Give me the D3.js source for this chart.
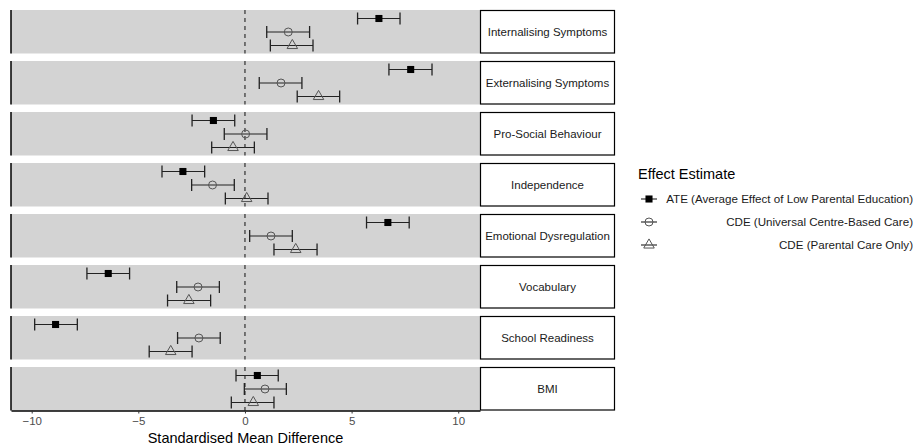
<!DOCTYPE html>
<html>
<head>
<meta charset="utf-8">
<script src="https://cdn.jsdelivr.net/npm/d3@7"></script>
<style>
  body { margin: 0; background: #fff; }
  text { font-family: "Liberation Sans", Arial, sans-serif; }
</style>
</head>
<body>
<svg width="917" height="447"></svg>
<script>
const svg = d3.select('svg')

const outcomes = ['Internalising Symptoms', 'Externalising Symptoms', 'Pro-Social Behaviour', 'Independence',
  'Emotional Dysregulation', 'Vocabulary', 'School Readiness', 'BMI']
const estimates = ['ATE (Average Effect of Low Parental Education)', 'CDE (Universal Centre-Based Care)', 'CDE (Parental Care Only)']
const xTicks = [-10, -5, 0, 5, 10]

// point estimates and 95% intervals, one array per estimate
const ateMid = [6.28, 7.77, -1.48, -2.91, 6.70, -6.41, -8.88, 0.58]
const ateLo = [5.28, 6.75, -2.48, -3.89, 5.70, -7.41, -9.86, -0.42]
const ateHi = [7.27, 8.77, -0.48, -1.89, 7.70, -5.41, -7.86, 1.56]
const univMid = [2.03, 1.69, 0.03, -1.52, 1.22, -2.20, -2.16, 0.94]
const univLo = [1.02, 0.67, -0.97, -2.50, 0.22, -3.20, -3.16, -0.03]
const univHi = [3.03, 2.67, 1.03, -0.50, 2.22, -1.20, -1.16, 1.94]
const parMid = [2.22, 3.45, -0.56, 0.08, 2.38, -2.63, -3.48, 0.39]
const parLo = [1.19, 2.45, -1.56, -0.92, 1.36, -3.63, -4.49, -0.64]
const parHi = [3.19, 4.44, 0.44, 1.08, 3.38, -1.61, -2.48, 1.36]

const series = [
  { name: estimates[0], mid: ateMid, lo: ateLo, hi: ateHi, shape: 'square' },
  { name: estimates[1], mid: univMid, lo: univLo, hi: univHi, shape: 'circle' },
  { name: estimates[2], mid: parMid, lo: parLo, hi: parHi, shape: 'triangle' },
]

const rows = []
series.forEach(s => {
  outcomes.forEach((o, i) => {
    rows.push({ outcome: o, est: s.name, shape: s.shape, mid: s.mid[i], lo: s.lo[i], hi: s.hi[i] })
  })
})

const x = d3.scaleLinear().domain([-10.97, 11.02]).range([11, 480])
const panel = d3.scaleBand().domain(outcomes).range([10, 410.5]).paddingInner(0.147).paddingOuter(0)
const ph = panel.bandwidth()
const inner = d3.scalePoint().domain(estimates).range([8.5, 35.5])

const symbolFor = {
  square: d3.symbol().type(d3.symbolSquare).size(50),
  circle: d3.symbol().type(d3.symbolCircle).size(50),
  triangle: d3.symbol().type(d3.symbolTriangle).size(48),
}

function drawShape(g, shape) {
  if (shape === 'square') {
    g.append('path').attr('d', symbolFor.square()).attr('fill', '#000')
  } else {
    g.append('path').attr('d', symbolFor[shape]()).attr('fill', 'none')
      .attr('stroke', '#555').attr('stroke-width', 1)
  }
}

const panels = svg.selectAll('.panel')
  .data(outcomes)
  .enter()
  .append('g')
  .attr('class', 'panel')
  .attr('transform', d => `translate(0,${panel(d)})`)

panels.append('rect')
  .attr('x', x.range()[0]).attr('y', 0)
  .attr('width', x.range()[1] - x.range()[0]).attr('height', ph)
  .attr('fill', '#d3d3d3')

panels.append('line')
  .attr('x1', x(0)).attr('x2', x(0))
  .attr('y1', 0).attr('y2', ph)
  .attr('stroke', '#222').attr('stroke-width', 1.1)
  .attr('stroke-dasharray', '4,4')

panels.append('line')
  .attr('x1', x.range()[0]).attr('x2', x.range()[0])
  .attr('y1', 0).attr('y2', ph)
  .attr('stroke', '#000').attr('stroke-width', 1.5)

// strip labels
panels.append('rect')
  .attr('x', 480.5).attr('y', 0.5)
  .attr('width', 134).attr('height', ph - 1)
  .attr('fill', '#fff').attr('stroke', '#000').attr('stroke-width', 1.2)

panels.append('text')
  .attr('x', 547.5).attr('y', ph / 2)
  .attr('dy', '0.35em')
  .attr('text-anchor', 'middle')
  .attr('font-size', 11.5)
  .attr('fill', '#1a1a1a')
  .text(d => d)

// error bars and points
const marks = svg.selectAll('.mark')
  .data(rows)
  .enter()
  .append('g')
  .attr('class', 'mark')
  .attr('transform', d => `translate(0,${panel(d.outcome) + inner(d.est)})`)

marks.append('line')
  .attr('x1', d => x(d.lo)).attr('x2', d => x(d.hi))
  .attr('stroke', '#222').attr('stroke-width', 1.1)
marks.append('line')
  .attr('x1', d => x(d.lo)).attr('x2', d => x(d.lo))
  .attr('y1', -6).attr('y2', 6)
  .attr('stroke', '#222').attr('stroke-width', 1.3)
marks.append('line')
  .attr('x1', d => x(d.hi)).attr('x2', d => x(d.hi))
  .attr('y1', -6).attr('y2', 6)
  .attr('stroke', '#222').attr('stroke-width', 1.3)

marks.each(function (d) {
  const g = d3.select(this).append('g').attr('transform', `translate(${x(d.mid)},0)`)
  drawShape(g, d.shape)
})

// x axis under the bottom panel
const lastPanel = outcomes[outcomes.length - 1]
const axisY = panel(lastPanel) + ph
const axis = svg.append('g')
  .attr('transform', `translate(0,${axisY})`)
  .call(d3.axisBottom(x).tickValues(xTicks).tickSize(3).tickSizeOuter(0).tickPadding(3))
axis.select('.domain').attr('stroke', '#000').attr('stroke-width', 1.5)
axis.selectAll('.tick line').attr('stroke', '#333')
axis.selectAll('.tick text')
  .attr('font-size', 11.5)
  .attr('fill', '#4d4d4d')
  .attr('font-family', '"Liberation Sans", Arial, sans-serif')

svg.append('text')
  .attr('x', (x.range()[0] + x.range()[1]) / 2)
  .attr('y', 443)
  .attr('text-anchor', 'middle')
  .attr('font-size', 14.5)
  .attr('fill', '#000')
  .text('Standardised Mean Difference')

// legend
const legend = svg.append('g').attr('transform', 'translate(638,0)')
legend.append('text')
  .attr('x', 0).attr('y', 179)
  .attr('font-size', 14.5)
  .attr('fill', '#000')
  .text('Effect Estimate')

const legendY = d3.scalePoint().domain(estimates).range([199, 245])
const keys = legend.selectAll('.key')
  .data(series)
  .enter()
  .append('g')
  .attr('class', 'key')
  .attr('transform', d => `translate(0,${legendY(d.name)})`)

keys.append('line')
  .attr('x1', 3).attr('x2', 19)
  .attr('stroke', '#222').attr('stroke-width', 1.1)
keys.each(function (d) {
  const g = d3.select(this).append('g').attr('transform', 'translate(11,0)')
  drawShape(g, d.shape)
})
keys.append('text')
  .attr('x', 275).attr('dy', '0.35em')
  .attr('text-anchor', 'end')
  .attr('font-size', 11.6)
  .attr('fill', '#1a1a1a')
  .text(d => d.name)
</script>
</body>
</html>
